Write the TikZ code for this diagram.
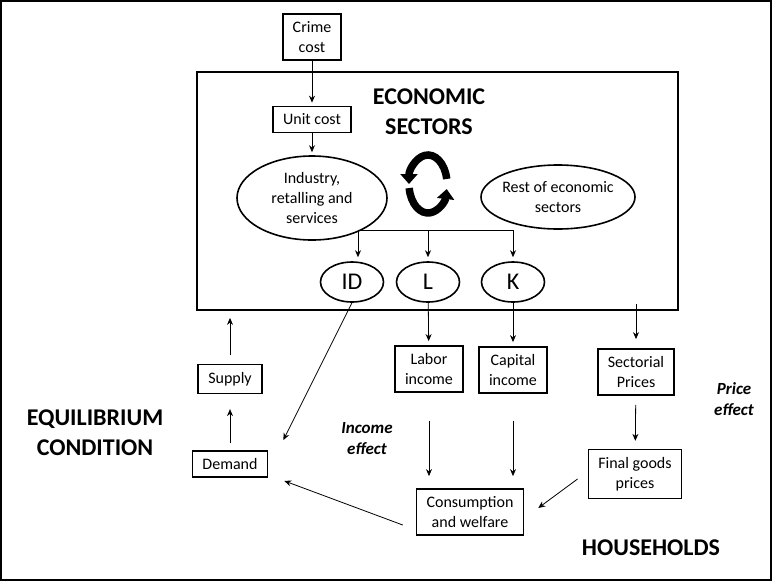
\documentclass[tikz,border=0pt]{standalone}
\usepackage{fontspec}
\setmainfont{Carlito}
\usetikzlibrary{arrows.meta,shapes.geometric,calc}

\tikzset{
    box/.style={draw, line width=1.6pt, align=center, inner xsep=10pt, inner ysep=7.5pt,
        font=\fontsize{16}{20}\selectfont},
    oval/.style={draw, ellipse, line width=1.6pt, align=center, inner sep=0pt,
        font=\fontsize{16}{20}\selectfont},
    factor/.style={oval, minimum width=63pt, minimum height=40pt, font=\fontsize{24}{28}\selectfont},
    link/.style={-{Stealth[length=7pt,width=6pt]}, line width=0.8pt},
    heading/.style={align=center, font=\bfseries\fontsize{24}{30}\selectfont},
    effect/.style={align=center, font=\bfseries\itshape\fontsize{17}{21}\selectfont}
}

\begin{document}
\begin{tikzpicture}[x=1pt, y=-1pt]
    \useasboundingbox (0,0) rectangle (773,582);
    \draw[line width=1.5pt] (1,1) rectangle (771,580);

    \node[draw, line width=1.8pt, minimum width=481pt, minimum height=238pt] (econ) at (437.5,191) {};
    \node[heading] (title) at (429,112) {ECONOMIC\\SECTORS};

    \node[box] (crime) at (312,37) {Crime\\cost};
    \node[box] (unit) at (312,119.5) {Unit cost};
    \node[oval, minimum width=150pt, minimum height=84pt] (industry) at (312,198) {Industry,\\retalling and\\services};
    \node[oval, inner xsep=-3pt, minimum width=154pt, minimum height=64pt] (rest) at (558,197) {Rest of economic\\sectors};

    \node[factor] (id) at (352,282) {ID};
    \node[factor] (l) at (428,282) {L};
    \node[factor] (k) at (513,282) {K};

    \node[box] (labor) at (429,369) {Labor\\income};
    \node[box] (capital) at (513,370) {Capital\\income};
    \node[box] (sectorial) at (636,372) {Sectorial\\Prices};
    \node[box] (final) at (635,474) {Final goods\\prices};
    \node[box] (cons) at (470,512) {Consumption\\and welfare};
    \node[box] (supply) at (230,379) {Supply};
    \node[box] (demand) at (230,464) {Demand};

    \node[heading] (equil) at (95,433) {EQUILIBRIUM\\CONDITION};
    \node[heading] (house) at (651,548) {HOUSEHOLDS};
    \node[effect] (income) at (367,439) {Income\\effect};
    \node[effect] (price) at (734,399) {Price\\effect};

    % circular flow between sectors
    \coordinate (cyc) at (428,184);
    \draw[line width=7.5pt, -{Triangle[length=10pt,width=17pt]}]
        ([shift={(10:19pt and 29pt)}]cyc) arc[start angle=10, end angle=180, x radius=19pt, y radius=29pt];
    \draw[line width=7.5pt, -{Triangle[length=10pt,width=17pt]}]
        ([shift={(188:19pt and 29pt)}]cyc) arc[start angle=188, end angle=350, x radius=19pt, y radius=29pt];

    \draw[link, shorten >=3pt] (crime) -- (unit);
    \draw[link, shorten >=3pt] (unit) -- (industry);

    % split to the factors
    \coordinate (split) at (428,230);
    \draw[line width=0.8pt] ([xshift=6pt]id.north |- split) -- (k.north |- split);
    \draw[link, shorten >=4pt] ([xshift=6pt]id.north |- split) -- ([xshift=6pt]id.north);
    \foreach \f in {l,k}
        \draw[link, shorten >=4pt] (\f.north |- split) -- (\f.north);

    \draw[link, shorten >=4pt] (l) -- (labor);
    \draw[link, shorten >=4pt] (k) -- (capital);
    \draw[link, shorten <=-7pt, shorten >=9pt] (sectorial.north |- econ.south) -- (sectorial.north);
    \draw[link, shorten <=9pt, shorten >=8pt] (sectorial) -- (final);
    \draw[link, shorten <=28pt, shorten >=12pt] (labor.south) -- (labor.south |- cons.north);
    \draw[link, shorten <=27pt, shorten >=12pt] (capital.south) -- (capital.south |- cons.north);
    \draw[link] ($(final.west)+(-10,5)$) -- ($(cons.east)+(14,-4)$);
    \draw[link] ($(cons.west)+(-13,13)$) -- ($(demand.south east)+(16,3)$);
    \draw[link] (id.south) -- ($(demand.north east)+(15,-10)$);
    \draw[link, shorten <=7pt, shorten >=15pt] (demand.north) -- (supply.south);
    \draw[link, shorten <=9pt, shorten >=7pt] (supply.north) -- (supply.north |- econ.south);
\end{tikzpicture}
\end{document}
